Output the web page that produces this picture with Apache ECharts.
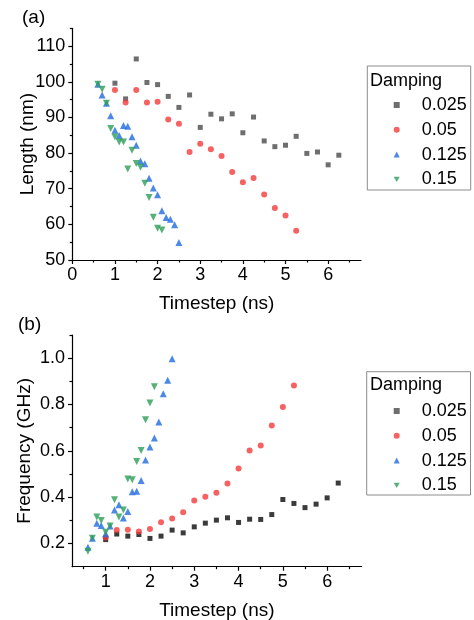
<!DOCTYPE html>
<html>
<head>
<meta charset="utf-8">
<script src="https://cdn.jsdelivr.net/npm/echarts@6/dist/echarts.min.js"></script>
<style>html,body{margin:0;padding:0;background:#fff}#c{width:474px;height:620px}</style>
</head>
<body>
<div id="c"></div>
<script>
// ---- data (a): Length vs timestep ----
const time025 = [1.0,1.25,1.5,1.75,2.0,2.25,2.5,2.75,3.0,3.25,3.5,3.75,4.0,4.25,4.5,4.75,5.0,5.25,5.5,5.75,6.0,6.25];
const time05  = [1.0,1.25,1.5,1.75,2.0,2.25,2.5,2.75,3.0,3.25,3.5,3.75,4.0,4.25,4.5,4.75,5.0,5.25];
const time125 = [0.6,0.7,0.8,0.9,1.0,1.1,1.2,1.3,1.4,1.5,1.6,1.7,1.8,1.9,2.0,2.1,2.2,2.3,2.4,2.5];
const time15  = [0.6,0.7,0.8,0.9,1.0,1.1,1.2,1.3,1.4,1.5,1.6,1.7,1.8,1.9,2.0,2.1];

const length025 = [99.6,95.2,106.4,99.8,99.2,95.9,92.8,96.3,87.2,90.9,89.6,91.0,85.7,90.1,83.4,81.8,82.2,84.7,79.9,80.3,76.7,79.4];
const length05  = [97.7,94.2,97.7,94.2,94.4,89.4,88.2,80.3,82.6,81.1,79.2,74.7,71.8,73.0,68.4,64.6,62.5,58.2];
const length125 = [99.3,96.3,94.0,90.5,86.4,84.9,87.7,87.5,84.6,82.2,77.8,77.0,72.9,70.2,68.3,63.8,61.9,61.4,59.9,54.9];
const length15  = [99.3,97.9,94.0,86.9,84.5,83.1,83.1,75.5,80.8,77.1,76.0,71.5,67.5,62.0,58.9,58.4];

// ---- data (b): Frequency vs timestep ----
const freq025 = [0.217,0.241,0.232,0.239,0.222,0.232,0.258,0.246,0.272,0.288,0.301,0.311,0.291,0.305,0.304,0.325,0.390,0.373,0.355,0.370,0.397,0.461];
const freq05  = [0.226,0.258,0.260,0.252,0.263,0.292,0.308,0.335,0.386,0.402,0.419,0.459,0.524,0.601,0.623,0.709,0.789,0.882];
const freq125 = [0.184,0.223,0.288,0.278,0.242,0.276,0.345,0.367,0.310,0.338,0.423,0.426,0.472,0.561,0.617,0.655,0.725,0.846,0.905,0.997];
const freq15  = [0.167,0.223,0.314,0.299,0.249,0.276,0.389,0.314,0.345,0.479,0.475,0.554,0.601,0.734,0.806,0.877];

const dampingNames = ['0.025','0.05','0.125','0.15'];

// ---- tick labels ----
const xTicksA = [0,1,2,3,4,5,6];
const xMinorA = [0.5,1.5,2.5,3.5,4.5,5.5,6.5];
const yTicksA = [50,60,70,80,90,100,110];
const yMinorA = [55,65,75,85,95,105,115];
const xTicksB = [1,2,3,4,5,6];
const xMinorB = [0.5,1.5,2.5,3.5,4.5,5.5,6.5];
const yTicksB = [0.2,0.4,0.6,0.8,1.0];
const yMinorB = [0.3,0.5,0.7,0.9,1.1];

const FONT = 'Liberation Sans';
const colors = ['#4a4a4a','#f43b3b','#1f6be0','#2c9e58'];
const symbols = ['rect','circle','triangle','triangle'];
const rotates = [0,0,0,180];
const sizes = [5,6,7,7];
const legendIcons = ['rect','circle','triangle','path://M0,0L10,0L5,8.66Z'];

function zip(xs, ys){ return xs.map((x,i)=>[x, ys[i]]); }

function mainX(grid, min, max, ticks, name, gap){
  return {type:'value', gridIndex:grid, min:min, max:max, position:'bottom',
    axisLine:{show:true, onZero:false, lineStyle:{color:'#000', width:1.2}},
    axisTick:{show:true, inside:false, length:4, customValues:ticks, lineStyle:{color:'#000', width:1.2}},
    axisLabel:{show:true, customValues:ticks, margin:6, color:'#000', fontSize:18, fontFamily:FONT},
    splitLine:{show:false},
    name:name, nameLocation:'middle', nameGap:gap, nameMoveOverlap:false,
    nameTextStyle:{color:'#000', fontSize:19, fontFamily:FONT}};
}
function minorX(grid, min, max, ticks){
  return {type:'value', gridIndex:grid, min:min, max:max, position:'bottom',
    axisLine:{show:false, onZero:false},
    axisTick:{show:true, inside:false, length:2.5, customValues:ticks, lineStyle:{color:'#000', width:1.2}},
    axisLabel:{show:false}, splitLine:{show:false}};
}
function mainY(grid, min, max, ticks, name, gap, fmt){
  return {type:'value', gridIndex:grid, min:min, max:max, position:'left',
    axisLine:{show:true, onZero:false, lineStyle:{color:'#000', width:1.2}},
    axisTick:{show:true, inside:false, length:4, customValues:ticks, lineStyle:{color:'#000', width:1.2}},
    axisLabel:{show:true, customValues:ticks, margin:7, color:'#000', fontSize:18, fontFamily:FONT, formatter:fmt},
    splitLine:{show:false},
    name:name, nameLocation:'middle', nameGap:gap, nameRotate:90, nameMoveOverlap:false,
    nameTextStyle:{color:'#000', fontSize:19, fontFamily:FONT}};
}
function minorY(grid, min, max, ticks){
  return {type:'value', gridIndex:grid, min:min, max:max, position:'left',
    axisLine:{show:false, onZero:false},
    axisTick:{show:true, inside:false, length:2.5, customValues:ticks, lineStyle:{color:'#000', width:1.2}},
    axisLabel:{show:false}, splitLine:{show:false}};
}

function sc(name, idx, xi, yi, data, color){
  return {type:'scatter', name:name, xAxisIndex:xi, yAxisIndex:yi, data:data,
    symbol:symbols[idx], symbolRotate:rotates[idx], symbolSize:sizes[idx],
    itemStyle:{color:color || colors[idx]}, emphasis:{disabled:true}, silent:true};
}

const legendBase = {orient:'vertical', left:388.7, itemWidth:6, itemHeight:6, itemGap:6.8,
  selectedMode:false, symbolRotate:0,
  data:dampingNames.map((n,i)=>({name:n, icon:legendIcons[i]})),
  textStyle:{color:'#000', fontSize:18, fontFamily:FONT, padding:[0,0,0,17]}};

const option = {
  animation:false,
  grid:[
    {left:72.3, top:28.3, width:288.7, height:231.7, containLabel:false, outerBoundsMode:'none'},
    {left:72, top:335, width:289.7, height:231.7, containLabel:false, outerBoundsMode:'none'}
  ],
  xAxis:[
    mainX(0, 0, 6.77, xTicksA, 'Timestep (ns)', 34),
    minorX(0, 0, 6.77, xMinorA),
    mainX(1, 0.24, 6.78, xTicksB, 'Timestep (ns)', 34.5),
    minorX(1, 0.24, 6.78, xMinorB)
  ],
  yAxis:[
    mainY(0, 50, 115, yTicksA, 'Length (nm)', 35, v=>String(v)),
    minorY(0, 50, 115, yMinorA),
    mainY(1, 0.1, 1.1, yTicksB, 'Frequency (GHz)', 38, v=>Number(v).toFixed(1)),
    minorY(1, 0.1, 1.1, yMinorB)
  ],
  legend:[
    Object.assign({}, legendBase, {top:91}),
    Object.assign({}, legendBase, {top:397})
  ],
  graphic:[
    {type:'text', left:22, top:8, style:{text:'(a)', fontSize:19, fontFamily:FONT, fill:'#000'}},
    {type:'text', left:18, top:315, style:{text:'(b)', fontSize:19, fontFamily:FONT, fill:'#000'}},
    {type:'rect', shape:{x:367.3, y:66, width:103.4, height:124}, style:{fill:'none', stroke:'#8c8c8c', lineWidth:1}},
    {type:'rect', shape:{x:366.7, y:371.7, width:103.8, height:123.3}, style:{fill:'none', stroke:'#8c8c8c', lineWidth:1}},
    {type:'text', x:370, y:80.7, style:{text:'Damping', fontSize:18, fontFamily:FONT, fill:'#000', verticalAlign:'middle'}},
    {type:'text', x:370, y:385, style:{text:'Damping', fontSize:18, fontFamily:FONT, fill:'#000', verticalAlign:'middle'}}
  ],
  series:[
    sc('0.025', 0, 0, 0, zip(time025, length025)),
    sc('0.05',  1, 0, 0, zip(time05, length05)),
    sc('0.125', 2, 0, 0, zip(time125, length125)),
    sc('0.15',  3, 0, 0, zip(time15, length15)),
    sc('0.025', 0, 2, 2, zip(time025, freq025), '#0a0a0a'),
    sc('0.05',  1, 2, 2, zip(time05, freq05)),
    sc('0.125', 2, 2, 2, zip(time125, freq125)),
    sc('0.15',  3, 2, 2, zip(time15, freq15))
  ]
};

const chart = echarts.init(document.getElementById('c'), null, {renderer:'canvas'});
chart.setOption(option);
</script>
</body>
</html>
